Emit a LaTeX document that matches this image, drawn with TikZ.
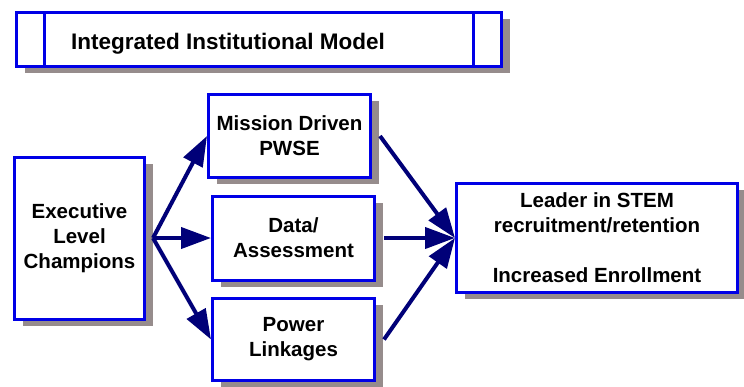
\documentclass[tikz,border=0pt]{standalone}
\usepackage{fontspec}
\setmainfont{Liberation Sans}
\usetikzlibrary{arrows.meta,positioning}
\definecolor{boxblue}{RGB}{0,0,230}
\definecolor{arrownavy}{RGB}{0,0,120}
\definecolor{shadowgrey}{RGB}{150,140,140}
\tikzset{
  box/.style={draw=boxblue, line width=3pt, fill=white, align=center,
    font=\fontsize{20.5}{25}\selectfont\bfseries, inner sep=0pt,
    preaction={fill=shadowgrey, transform canvas={shift={(8pt,-6.5pt)}}}},
  link/.style={draw=arrownavy, line width=4pt, -{Triangle[length=30pt,width=21pt]}}
}
\begin{document}
\begin{tikzpicture}[x=1pt,y=-1pt]
\useasboundingbox (0,0) rectangle (744,386);
% title
\node[box, minimum width=485pt, minimum height=54pt] (titlebox) at (259,39.5) {};
\draw[boxblue, line width=3pt] ([xshift=29.5pt]titlebox.north west) -- ([xshift=29.5pt]titlebox.south west);
\draw[boxblue, line width=3pt] ([xshift=-29.5pt]titlebox.north east) -- ([xshift=-29.5pt]titlebox.south east);
\node[anchor=base west, inner sep=0pt, font=\fontsize{22.5}{27}\selectfont\bfseries] (title) at (71,49) {Integrated Institutional Model};
% boxes
\node[box, minimum width=130pt, minimum height=162pt] (exec) at (79.5,238) {Executive\\Level\\Champions};
\node[box, minimum width=162pt, minimum height=83pt] (mission) at (289.5,136) {Mission Driven\\PWSE};
\node[box, minimum width=162pt, minimum height=84pt] (data) at (293.5,238) {Data/\\Assessment};
\node[box, minimum width=162pt, minimum height=82pt] (power) at (293.5,339.5) {Power\\Linkages};
\node[box, minimum width=281pt, minimum height=109pt] (result) at (597,238) {Leader in STEM\\recruitment/retention\\[25pt]Increased Enrollment};
% arrows
\coordinate (hub) at ([xshift=7pt]exec.east);
\draw[link] (hub) -- (mission.west);
\draw[link] (hub) -- (data.west);
\draw[link] (hub) -- (power.west);
\draw[link] ([xshift=8pt]mission.east) -- (result.west);
\draw[link] ([xshift=8pt]data.east) -- (result.west);
\draw[link] ([xshift=8pt]power.east) -- (result.west);
\end{tikzpicture}
\end{document}
